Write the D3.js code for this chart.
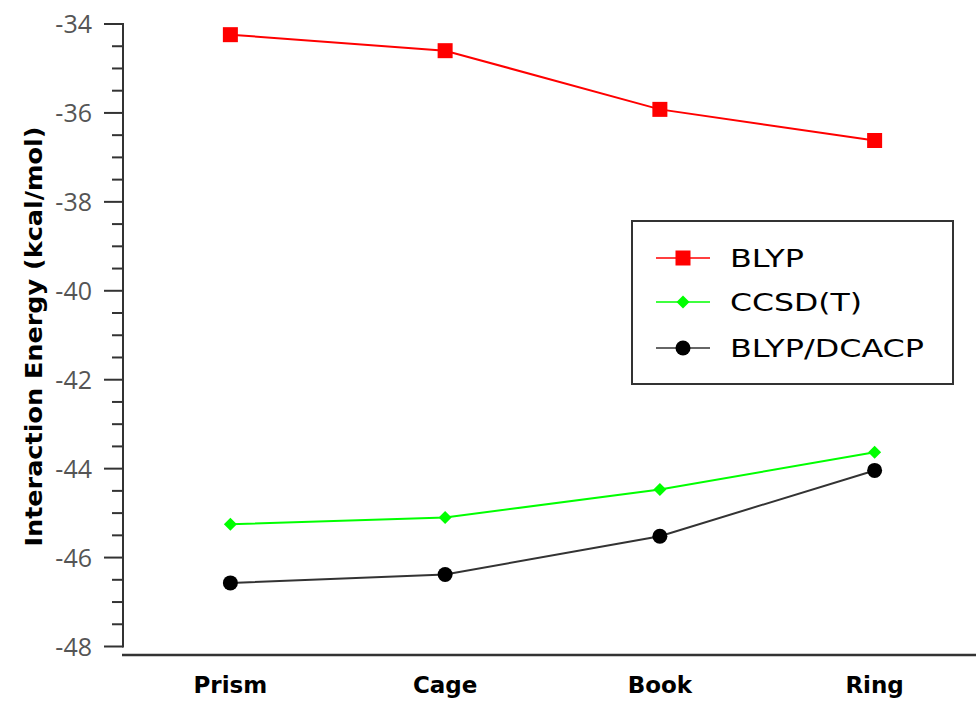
<!DOCTYPE html>
<html>
<head>
<meta charset="utf-8">
<script src="https://cdn.jsdelivr.net/npm/d3@7"></script>
<style>
  body { margin: 0; background: #fff; }
  svg { display: block; }
</style>
</head>
<body>
<svg id="chart" width="976" height="704"></svg>
<script>
// Water hexamer isomers and their interaction energies (kcal/mol)
const categories = ["Prism", "Cage", "Book", "Ring"];
const blyp = [-34.24, -34.60, -35.92, -36.62];
const ccsdt = [-45.25, -45.10, -44.47, -43.63];
const blypDcacp = [-46.57, -46.38, -45.52, -44.04];
const yTicks = [-34, -36, -38, -40, -42, -44, -46, -48];
const seriesNames = ["BLYP", "CCSD(T)", "BLYP/DCACP"];

const series = [
  { name: seriesNames[0], values: blyp, color: "#ff0000", shape: "square", textLen: 74 },
  { name: seriesNames[1], values: ccsdt, color: "#00ff00", shape: "diamond", textLen: 132 },
  { name: seriesNames[2], values: blypDcacp, color: "#000000", shape: "circle", line: "#333", textLen: 194 }
];

const svg = d3.select("#chart");
const plotLeft = 123, plotRight = 976, plotTop = 24, plotBottom = 646.5, xAxisY = 655;

const x = d3.scalePoint().domain(categories).range([plotLeft, 982]).padding(0.5);
const y = d3.scaleLinear().domain([-48, -34]).range([plotBottom, plotTop]);

const fontLabel = "'DejaVu Sans', sans-serif";
const axisColor = "#333";

// Y axis: major ticks every 2, minor ticks every 0.5
const g = svg.append("g");
g.append("line").attr("x1", plotLeft).attr("x2", plotLeft).attr("y1", plotTop - 1).attr("y2", plotBottom + 1)
  .attr("stroke", axisColor).attr("stroke-width", 2);
const minor = d3.range(-48, -33.9, 0.5).filter(v => Math.abs(v % 2) > 1e-6);
g.selectAll("line.minor").data(minor).join("line")
  .attr("x1", plotLeft - 11).attr("x2", plotLeft).attr("y1", d => y(d)).attr("y2", d => y(d))
  .attr("stroke", axisColor).attr("stroke-width", 2);
g.selectAll("line.major").data(yTicks).join("line")
  .attr("x1", plotLeft - 19).attr("x2", plotLeft).attr("y1", d => y(d)).attr("y2", d => y(d))
  .attr("stroke", axisColor).attr("stroke-width", 2);
g.selectAll("text.ytick").data(yTicks).join("text")
  .attr("x", 92).attr("y", d => y(d)).attr("dy", "0.36em")
  .attr("text-anchor", "end").attr("fill", "#555")
  .attr("font-family", "'Open Sans', sans-serif").attr("font-size", 25)
  .text(d => d);

// X axis line and category labels
svg.append("line").attr("x1", plotLeft - 1).attr("x2", plotRight).attr("y1", xAxisY).attr("y2", xAxisY)
  .attr("stroke", axisColor).attr("stroke-width", 2.5);
svg.selectAll("text.xcat").data(categories).join("text")
  .attr("x", d => x(d)).attr("y", 693)
  .attr("text-anchor", "middle").attr("fill", "#000")
  .attr("font-family", fontLabel).attr("font-weight", "bold").attr("font-size", 23)
  .text(d => d);

// Y axis title
svg.append("text")
  .attr("transform", `translate(42,${(125 + 548) / 2}) rotate(-90)`)
  .attr("text-anchor", "middle").attr("fill", "#000")
  .attr("font-family", fontLabel).attr("font-weight", "bold").attr("font-size", 23)
  .attr("textLength", 420).attr("lengthAdjust", "spacingAndGlyphs")
  .text("Interaction Energy (kcal/mol)");

function marker(sel, s) {
  if (s.shape === "square") {
    sel.append("rect").attr("x", -7.5).attr("y", -7.5).attr("width", 15).attr("height", 15).attr("fill", s.color);
  } else if (s.shape === "diamond") {
    sel.append("path").attr("d", "M0,-6.5L6.5,0L0,6.5L-6.5,0Z").attr("fill", s.color);
  } else {
    sel.append("circle").attr("r", 7.5).attr("fill", s.color);
  }
}

const line = d3.line().x((d, i) => x(categories[i])).y(d => y(d));
series.forEach(s => {
  svg.append("path").attr("d", line(s.values)).attr("fill", "none")
    .attr("stroke", s.line || s.color).attr("stroke-width", 2);
  s.values.forEach((v, i) => {
    const m = svg.append("g").attr("transform", `translate(${x(categories[i])},${y(v)})`);
    marker(m, s);
  });
});

// Legend
const lg = svg.append("g");
lg.append("rect").attr("x", 632).attr("y", 221).attr("width", 321).attr("height", 163)
  .attr("fill", "#fff").attr("stroke", axisColor).attr("stroke-width", 2);
const rowY = [258, 302, 348];
series.forEach((s, i) => {
  const r = lg.append("g");
  r.append("line").attr("x1", 656).attr("x2", 710).attr("y1", rowY[i]).attr("y2", rowY[i])
    .attr("stroke", s.line || s.color).attr("stroke-width", 2).attr("opacity", 0.75);
  const m = r.append("g").attr("transform", `translate(683,${rowY[i]})`);
  marker(m, s);
  r.append("text").attr("x", 730).attr("y", rowY[i]).attr("dy", "0.36em")
    .attr("fill", "#000").attr("font-family", fontLabel).attr("font-size", 25)
    .attr("textLength", s.textLen).attr("lengthAdjust", "spacingAndGlyphs")
    .text(s.name);
});
</script>
</body>
</html>
